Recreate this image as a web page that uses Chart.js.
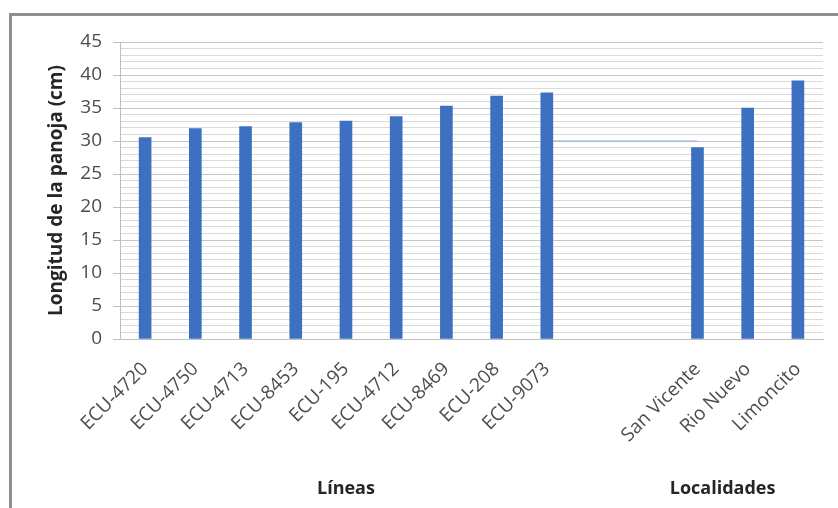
<!DOCTYPE html>
<html>
<head>
<meta charset="utf-8">
<script src="https://cdn.jsdelivr.net/npm/chart.js@4/dist/chart.umd.min.js"></script>
<style>
  html, body { margin: 0; padding: 0; background: #ffffff; }
  #wrap { position: relative; width: 838px; height: 508px; overflow: hidden; }
  #frame {
    position: absolute; left: 9px; top: 13px; width: 900px; height: 600px;
    border-top: 3px solid #8f8f8f; border-left: 3px solid #8f8f8f;
  }
  #c { position: absolute; left: 0; top: 0; }
</style>
</head>
<body>
<div id="wrap">
  <div id="frame"></div>
  <canvas id="c" width="838" height="508"></canvas>
</div>
<script>
// Categories: nine lines, two empty slots, three localities
const categories = [
  'ECU-4720', 'ECU-4750', 'ECU-4713', 'ECU-8453', 'ECU-195', 'ECU-4712',
  'ECU-8469', 'ECU-208', 'ECU-9073', '', '', 'San Vicente', 'Rio Nuevo', 'Limoncito'
];
// Panicle length (cm)
const panicleLength = [30.5, 31.9, 32.2, 32.8, 33.0, 33.7, 35.3, 36.8, 37.3, null, null, 29.0, 35.0, 39.1];
// Thin connector at 30 cm between the two groups
const connector = [null, null, null, null, null, null, null, null, 30, null, null, 30, null, null];
// Group captions and the category index range each one covers
const groupNames = ['Líneas', 'Localidades'];
const groupRanges = [[0, 8], [10, 13]];
// Y axis
const yMin = 0, yMax = 45, yStep = 1, yLabelEvery = 5;

const groupLabels = {
  id: 'groupLabels',
  afterDraw(chart) {
    const x = chart.scales.x;
    const ctx = chart.ctx;
    ctx.save();
    ctx.font = 'bold 18px "Open Sans"';
    ctx.fillStyle = '#262626';
    ctx.textAlign = 'center';
    ctx.textBaseline = 'middle';
    groupNames.forEach((name, i) => {
      const [a, b] = groupRanges[i];
      const cx = (x.getPixelForValue(a) + x.getPixelForValue(b)) / 2;
      ctx.fillText(name, cx, 489);
    });
    ctx.restore();
  }
};

new Chart(document.getElementById('c'), {
  data: {
    labels: categories,
    datasets: [
      {
        type: 'bar',
        data: panicleLength,
        backgroundColor: '#3d70c0',
        barThickness: 12,
        order: 0
      },
      {
        type: 'line',
        data: connector,
        borderColor: '#8fb0dc',
        borderWidth: 1,
        pointRadius: 0,
        spanGaps: true,
        order: 1
      }
    ]
  },
  options: {
    responsive: false,
    devicePixelRatio: 1,
    animation: false,
    layout: { padding: { left: 0, top: 42, right: 15, bottom: 0 } },
    plugins: { legend: { display: false }, tooltip: { enabled: false } },
    scales: {
      x: {
        type: 'category',
        grid: { display: false, drawTicks: false },
        border: { display: true, color: '#bfbfbf', width: 1 },
        ticks: {
          autoSkip: false,
          minRotation: 45,
          maxRotation: 45,
          padding: 19,
          color: '#4d4d4d',
          font: { family: 'Open Sans', size: 19 }
        },
        afterFit(scale) { scale.height = 169; }
      },
      y: {
        min: yMin,
        max: yMax,
        grid: {
          color: c => (c.tick && c.tick.value % yLabelEvery === 0) ? '#c6c6c6' : '#dadada',
          tickColor: c => (c.tick && c.tick.value % yLabelEvery === 0) ? '#bfbfbf' : 'rgba(0,0,0,0)',
          tickLength: 7
        },
        border: { display: true, color: '#bfbfbf', width: 1 },
        ticks: {
          stepSize: yStep,
          autoSkip: false,
          padding: 11,
          color: '#4d4d4d',
          font: { family: 'Open Sans', size: 19 },
          callback: v => (v % yLabelEvery === 0 ? v : '')
        },
        title: {
          display: true,
          text: 'Longitud de la panoja (cm)',
          color: '#262626',
          font: { family: 'Open Sans', size: 19, weight: 'bold' },
          padding: { top: 45, bottom: 0 }
        },
        afterFit(scale) { scale.width = 120; }
      }
    }
  },
  plugins: [groupLabels]
});
</script>
</body>
</html>
